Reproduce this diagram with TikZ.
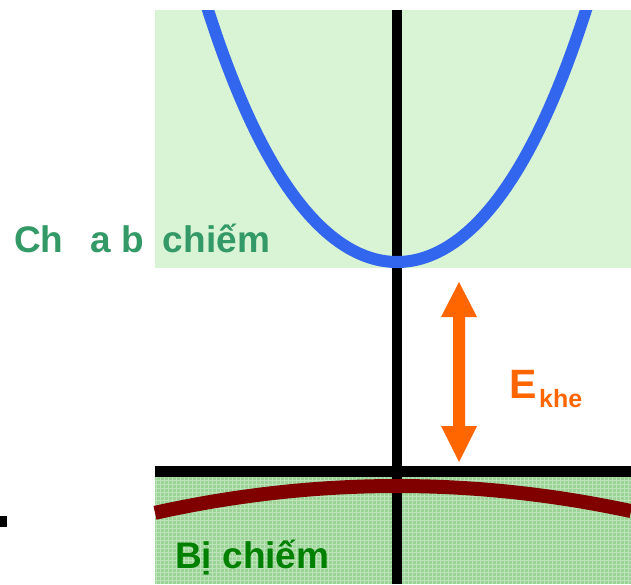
\documentclass[tikz,border=0pt]{standalone}
\usepackage{fontspec}
\setmainfont{Liberation Sans}
\definecolor{topgreen}{RGB}{216,244,212}
\definecolor{botgreen}{RGB}{155,212,150}
\definecolor{txtgreen}{RGB}{51,153,102}
\definecolor{darkgreen}{RGB}{0,128,0}
\definecolor{bandblue}{RGB}{51,102,238}
\definecolor{banddark}{RGB}{128,0,0}
\definecolor{gaporange}{RGB}{255,102,0}
\begin{document}
\begin{tikzpicture}[x=1pt,y=-1pt,
  lbl/.style={font=\bfseries\fontsize{37}{37}\selectfont, inner sep=0pt, anchor=base west},
  axisline/.style={line width=11pt, black}]
\useasboundingbox (0,0) rectangle (631,584);
% regions
\fill[topgreen] (155,10) rectangle (631,268);
\fill[botgreen] (155,477) rectangle (631,584);
\draw[white, opacity=0.35, line width=0.8pt, step=4pt] (155,477) grid (631,584);
% axes
\draw[axisline, line width=10pt] (397,10) -- (397,584);
\draw[axisline] (155,471) -- (631,471);
% conduction band
\begin{scope}
\clip (0,10) rectangle (631,584);
\draw[bandblue, line width=12pt, domain=206:588, samples=90, line cap=butt]
  plot (\x, {262 - 58.68*((\x-397)/100)^2 - 3.32*((\x-397)/100)^4});
\end{scope}
% valence band
\draw[banddark, line width=14pt, domain=155:631, samples=60]
  plot (\x, {486 + 0.000461*(\x-397)*(\x-397)});
% gap arrow
\coordinate (gtop) at (459,282);
\coordinate (gbot) at (459,462);
\fill[gaporange] (gtop) -- (477,317) -- (465,317) -- (465,426) -- (477,426) -- (gbot)
  -- (441,426) -- (453,426) -- (453,317) -- (441,317) -- cycle;
\node[lbl, text=gaporange, font=\bfseries\fontsize{41}{41}\selectfont] (eg) at (509,398) {E};
\node[lbl, text=gaporange, font=\bfseries\fontsize{25}{25}\selectfont] (egs) at (539,407) {khe};
% labels
\node[lbl, text=txtgreen] (cb) at (14,252) {Ch\hspace{27pt}a b\hspace{19pt}chiếm};
\node[lbl, text=darkgreen] (vb) at (175,568) {Bị chiếm};
% small mark
\fill[black] (0,516) rectangle (7,527);
\end{tikzpicture}
\end{document}
